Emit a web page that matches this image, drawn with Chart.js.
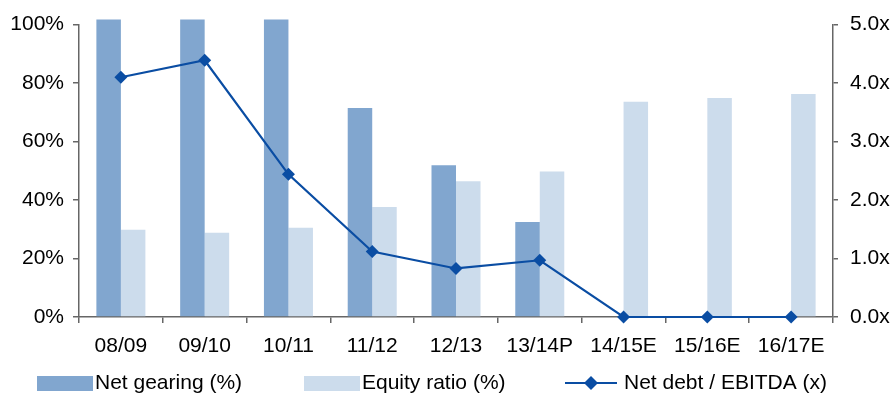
<!DOCTYPE html>
<html>
<head>
<meta charset="utf-8">
<script src="https://cdn.jsdelivr.net/npm/chart.js@4/dist/chart.umd.min.js"></script>
<style>
  html, body { margin: 0; padding: 0; background: #fff; }
  #wrap { width: 892px; height: 396px; position: relative; }
</style>
</head>
<body>
<div id="wrap"><canvas id="chart" width="892" height="396"></canvas></div>
<script>
const years = ['08/09', '09/10', '10/11', '11/12', '12/13', '13/14P', '14/15E', '15/16E', '16/17E'];
const netGearing = [112, 115, 110, 71.5, 51.9, 32.5, null, null, null];
const equityRatio = [29.8, 28.8, 30.5, 37.6, 46.4, 49.8, 73.6, 74.9, 76.3];
const netDebtEbitda = [4.10, 4.39, 2.44, 1.12, 0.83, 0.97, 0, 0, 0];
const pctTicks = [0, 20, 40, 60, 80, 100];
const multTicks = [0, 1, 2, 3, 4, 5];

const darkBlue = '#81a6cf';
const paleBlue = '#ccdcec';
const lineBlue = '#0a4da3';
const axisGrey = '#666666';
const font = { family: '"Liberation Sans", Arial, sans-serif', size: 21 };

// legend drawn by hand: boxes, a line+diamond swatch and labels
const legendRow = {
  id: 'legendRow',
  afterDraw(chart) {
    const ctx = chart.ctx;
    const starts = [37, 304, 565];
    const y = 383;
    ctx.save();
    ctx.font = font.size + 'px ' + font.family;
    ctx.textBaseline = 'middle';
    ctx.fillStyle = '#000';
    const items = [chart.data.datasets[1], chart.data.datasets[2], chart.data.datasets[0]];
    items.forEach((ds, i) => {
      const x = starts[i];
      if (ds.type === 'line') {
        ctx.strokeStyle = ds.borderColor;
        ctx.lineWidth = 2;
        ctx.beginPath();
        ctx.moveTo(x, y);
        ctx.lineTo(x + 52, y);
        ctx.stroke();
        ctx.fillStyle = ds.borderColor;
        ctx.beginPath();
        ctx.moveTo(x + 26, y - 7);
        ctx.lineTo(x + 33, y);
        ctx.lineTo(x + 26, y + 7);
        ctx.lineTo(x + 19, y);
        ctx.closePath();
        ctx.fill();
        ctx.fillStyle = '#000';
        ctx.fillText(ds.label, x + 59, y);
      } else {
        ctx.fillStyle = ds.backgroundColor;
        ctx.fillRect(x, y - 7, 56, 15);
        ctx.fillStyle = '#000';
        ctx.fillText(ds.label, x + 58, y);
      }
    });
    ctx.restore();
  }
};

new Chart(document.getElementById('chart'), {
  data: {
    labels: years,
    datasets: [
      {
        type: 'line',
        label: 'Net debt / EBITDA (x)',
        data: netDebtEbitda,
        yAxisID: 'y2',
        borderColor: lineBlue,
        backgroundColor: lineBlue,
        borderWidth: 2.2,
        pointStyle: 'rectRot',
        pointRadius: 6.5,
        pointBorderWidth: 0,
        tension: 0,
        order: 0,
        clip: 10
      },
      {
        type: 'bar',
        label: 'Net gearing (%)',
        data: netGearing,
        yAxisID: 'y',
        backgroundColor: darkBlue,
        barPercentage: 1,
        categoryPercentage: 0.585,
        order: 1,
        clip: { left: 0, top: 5, right: 0, bottom: 0 }
      },
      {
        type: 'bar',
        label: 'Equity ratio (%)',
        data: equityRatio,
        yAxisID: 'y',
        backgroundColor: paleBlue,
        barPercentage: 1,
        categoryPercentage: 0.585,
        order: 2
      }
    ]
  },
  options: {
    responsive: false,
    animation: false,
    layout: { padding: { top: 22, bottom: 35, left: 0, right: 0 } },
    plugins: {
      legend: { display: false },
      tooltip: { enabled: false }
    },
    scales: {
      x: {
        offset: true,
        border: { color: axisGrey, width: 1.5 },
        grid: { display: true, offset: true, drawOnChartArea: false, color: axisGrey, lineWidth: 1.5, tickLength: 6 },
        ticks: { color: '#000', font: font, padding: 11, maxRotation: 0 },
        afterFit: (scale) => { scale.height = 44; }
      },
      y: {
        position: 'left',
        min: 0,
        max: 100,
        afterBuildTicks: (scale) => { scale.ticks = pctTicks.map((v) => ({ value: v })); },
        border: { color: axisGrey, width: 1.5 },
        grid: { drawOnChartArea: false, color: axisGrey, lineWidth: 1.5, tickLength: 6 },
        ticks: { color: '#000', font: font, padding: 9, callback: (v) => v + '%' },
        afterFit: (scale) => { scale.width = 79; }
      },
      y2: {
        position: 'right',
        min: 0,
        max: 5,
        afterBuildTicks: (scale) => { scale.ticks = multTicks.map((v) => ({ value: v })); },
        border: { color: axisGrey, width: 1.5 },
        grid: { drawOnChartArea: false, color: axisGrey, lineWidth: 1.5, tickLength: 5 },
        ticks: { color: '#000', font: font, padding: 12, callback: (v) => v.toFixed(1) + 'x' },
        afterFit: (scale) => { scale.width = 59; }
      }
    }
  },
  plugins: [legendRow]
});
</script>
</body>
</html>
